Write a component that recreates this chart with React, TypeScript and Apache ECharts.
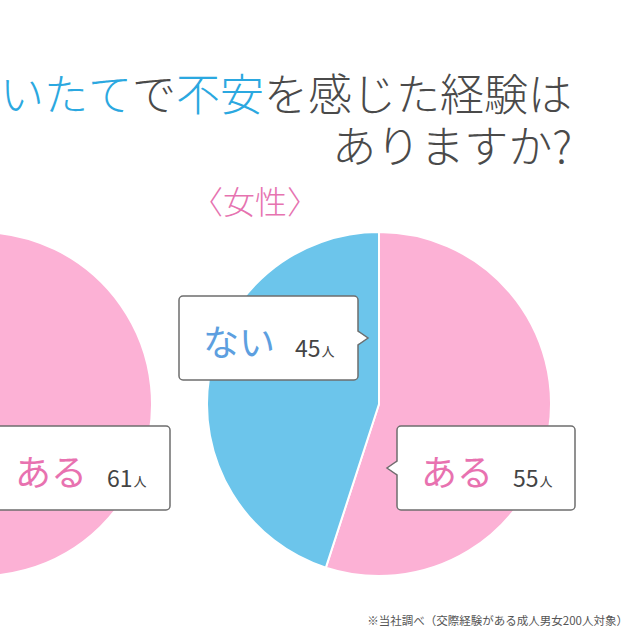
import * as echarts from "echarts";
import { useEffect, useRef } from "react";

// answers and values (people)
const categories = ["ある", "ない"];
const maleValues = [61, 39];
const femaleValues = [55, 45];
const unitLabel = "人";
const femaleLabel = "〈女性〉";
const titleParts = [
  { text: "いたて", hl: true },
  { text: "で", hl: false },
  { text: "不安", hl: true },
  { text: "を感じた経験は", hl: false },
];
const titleLine2 = "ありますか?";
const footnote = "※当社調べ（交際経験がある成人男女200人対象）";

const PINK = "#fcb1d5";
const BLUE = "#6cc5eb";
const FONT = '"Noto Sans CJK JP", "Noto Sans", sans-serif';
const BORDER = "#6e6e6e";

const callout = (
  x: number,
  y: number,
  w: number,
  h: number,
  side: "left" | "right",
  label: string,
  value: number,
  color: string
) => {
  const my = y + h / 2;
  const baseX = side === "right" ? x + w : x;
  const tipX = side === "right" ? baseX + 10 : baseX - 10;
  const inner = side === "right" ? baseX - 1.5 : baseX + 1.5;
  return {
    type: "group",
    z: 20,
    children: [
      {
        type: "rect",
        z: 20,
        shape: { x, y, width: w, height: h, r: 4 },
        style: { fill: "#fff", stroke: BORDER, lineWidth: 1.5 },
      },
      {
        type: "polygon",
        z: 21,
        shape: { points: [[inner, my - 7], [tipX, my], [inner, my + 7]] },
        style: { fill: "#fff" },
      },
      {
        type: "polyline",
        z: 22,
        shape: { points: [[baseX, my - 7], [tipX, my], [baseX, my + 7]] },
        style: { fill: null, stroke: BORDER, lineWidth: 1.5 },
      },
      {
        type: "text",
        z: 23,
        x: x + 24,
        y: my + 2,
        style: {
          text: `{k|${label}}{n|${value}}{u|${unitLabel}}`,
          align: "left",
          verticalAlign: "middle",
          textAlign: "left",
          textVerticalAlign: "middle",
          fontFamily: FONT,
          rich: {
            k: { fontSize: 36, lineHeight: 36, color, fill: color, fontFamily: FONT, verticalAlign: "bottom" },
            n: {
              fontSize: 23,
              lineHeight: 23,
              color: "#444",
              fill: "#444",
              fontFamily: FONT,
              verticalAlign: "bottom",
              padding: [0, 0, 0, 20],
            },
            u: { fontSize: 13, lineHeight: 13, color: "#444", fill: "#444", fontFamily: FONT, verticalAlign: "bottom", padding: [0, 0, 1, 1] },
          },
        },
      },
    ],
  };
};

const App = () => {
  const chartRef = useRef<HTMLDivElement | null>(null);

  useEffect(() => {
    document.body.style.margin = "0";
    const chart = echarts.init(chartRef.current!, null, { renderer: "svg" });

    const pieBase = {
      type: "pie",
      radius: 172,
      startAngle: 90,
      clockwise: true,
      silent: true,
      label: { show: false },
      labelLine: { show: false },
      itemStyle: { borderColor: "#fff", borderWidth: 2 },
    };
    const toData = (vals: number[]) =>
      categories.map((name, i) => ({
        name,
        value: vals[i],
        itemStyle: { color: i === 0 ? PINK : BLUE },
      }));

    const titleRich =
      titleParts.map((p) => `{${p.hl ? "b" : "g"}|${p.text}}`).join("") + `\n{g|${titleLine2}}`;
    const titleStyle = { fontSize: 44, lineHeight: 52, fontWeight: 300, fontFamily: FONT };

    const option = {
      animation: false,
      backgroundColor: "#fff",
      series: [
        { ...pieBase, name: "男性", center: [-20, 404], data: toData(maleValues) },
        { ...pieBase, name: "女性", center: [379, 404], data: toData(femaleValues) },
      ],
      graphic: [
        {
          type: "text",
          z: 20,
          x: 572,
          y: 118,
          style: {
            text: titleRich,
            align: "right",
            verticalAlign: "middle",
            textAlign: "right",
            textVerticalAlign: "middle",
            rich: {
              b: { ...titleStyle, color: "#2ba8e0", fill: "#2ba8e0" },
              g: { ...titleStyle, color: "#4a4a4a", fill: "#4a4a4a" },
            },
          },
        },
        {
          type: "text",
          z: 20,
          x: 255,
          y: 200,
          style: {
            text: femaleLabel,
            fontSize: 32,
            fontFamily: FONT,
            fontWeight: 300,
            fill: "#e673b0",
            align: "center",
            verticalAlign: "middle",
            textAlign: "center",
            textVerticalAlign: "middle",
          },
        },
        callout(179, 296, 179, 84, "right", categories[1], femaleValues[1], "#5d9fe0"),
        callout(397, 426, 178, 84, "left", categories[0], femaleValues[0], "#e872b0"),
        callout(-9, 426, 179, 84, "left", categories[0], maleValues[0], "#e872b0"),
        {
          type: "text",
          z: 20,
          x: 628,
          y: 620,
          style: {
            text: footnote,
            fontSize: 11.5,
            fontFamily: FONT,
            fill: "#555",
            align: "right",
            verticalAlign: "middle",
            textAlign: "right",
            textVerticalAlign: "middle",
          },
        },
      ],
    };

    chart.setOption(option as any);
    return () => {
      chart.dispose();
    };
  }, []);

  return <div ref={chartRef} style={{ width: "640px", height: "640px" }} />;
};

export default App;
